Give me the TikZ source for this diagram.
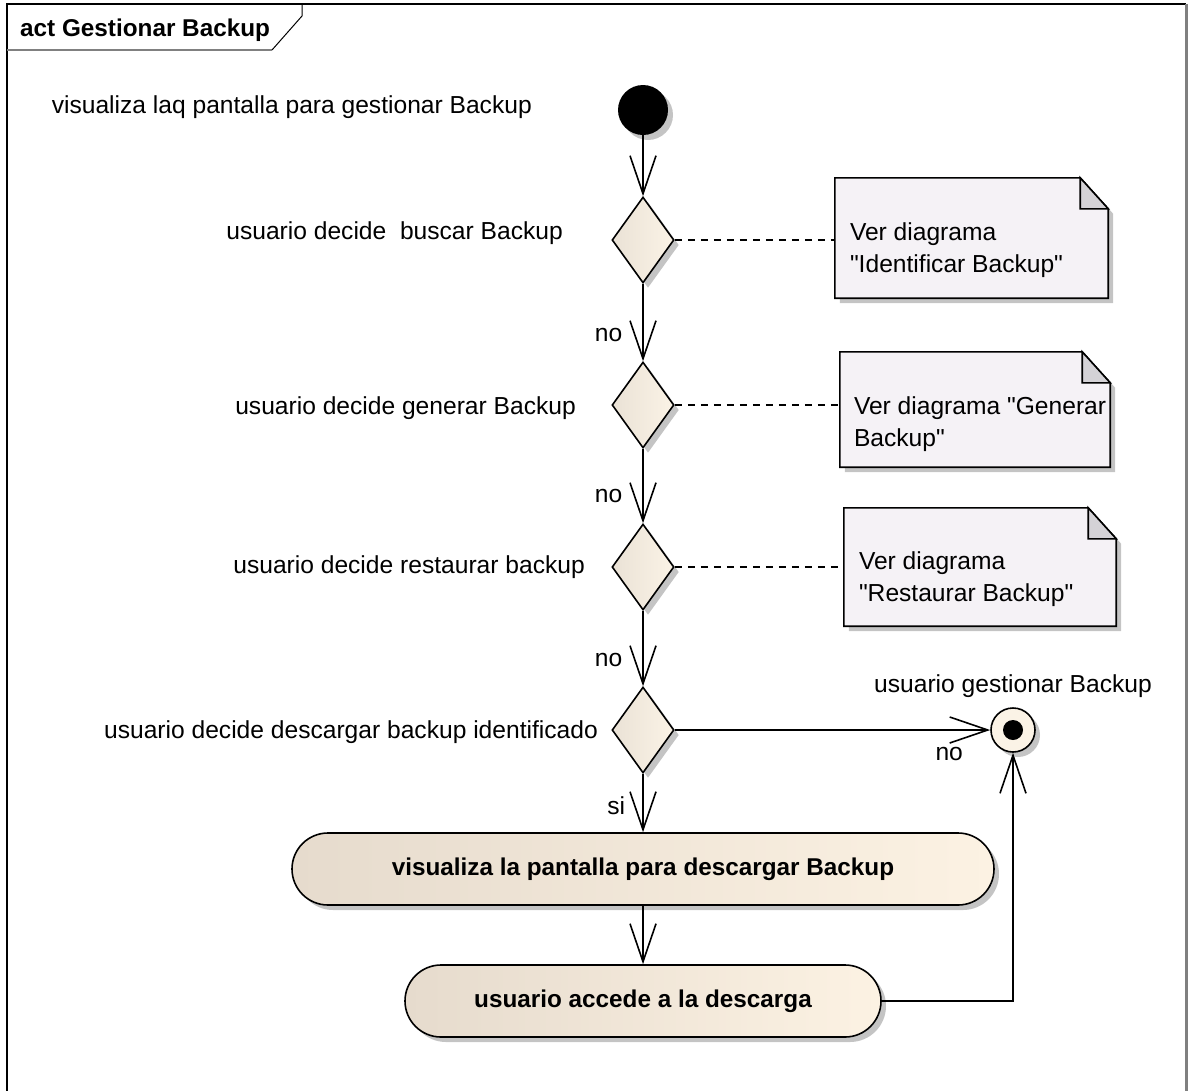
\documentclass[tikz,border=0pt]{standalone}
\usepackage{fontspec}
\setmainfont{Liberation Sans}[Ligatures=TeXOff]
\usepackage{xcolor}
\usetikzlibrary{arrows.meta,positioning,shapes.geometric,shadows}

\definecolor{dialeft}{HTML}{EAE2D6}
\definecolor{diaright}{HTML}{FBF3E6}
\definecolor{actleft}{HTML}{E6DBCD}
\definecolor{actright}{HTML}{FCF2E3}
\definecolor{notebg}{HTML}{F5F2F6}
\definecolor{notecrn}{HTML}{D4D2D6}
\definecolor{shade}{HTML}{C4C4C4}

\begin{document}
\begin{tikzpicture}[
    x=1pt, y=-1pt,
    font=\fontsize{24.6}{31.5}\selectfont,
    lbl/.style={inner sep=0pt},
    flow/.style={-{Straight Barb[length=38pt,width=26pt]}, line width=1.6pt},
    link/.style={line width=1.5pt, dash pattern=on 7pt off 6pt},
    shadowed/.style={drop shadow={shadow xshift=5pt, shadow yshift=-5pt, fill=shade, opacity=1}},
    start/.style={circle, fill=black, minimum size=50pt, inner sep=0pt, shadowed},
    decision/.style={diamond, draw, line width=1.6pt, left color=dialeft, right color=diaright,
        minimum width=62pt, minimum height=86pt, inner sep=0pt, shadowed},
    action/.style={rectangle, rounded corners=36pt, draw, line width=1.6pt, left color=actleft,
        right color=actright, minimum height=72pt, font=\fontsize{24.3}{31.5}\selectfont\bfseries, shadowed},
    final/.style={circle, draw, line width=1.6pt, fill=diaright, minimum size=44pt, inner sep=0pt, shadowed},
    note/.style={rectangle, inner sep=0pt},
    notebody/.style={draw, line width=1.6pt, fill=notebg, shadowed},
    notecorner/.style={draw, line width=1.6pt, fill=notecrn}
]
\useasboundingbox (0,0) rectangle (1189,1090);

% frame
\draw[line width=2pt] (7,1095) -- (7,4) -- (1186,4);
\draw[line width=3pt, gray] (1186,4) -- (1186,1095);
\draw[line width=2pt, gray] (7,50) -- (272,50);
\draw[line width=1pt] (272,50) -- (302,16) -- (302,4);
\node[lbl, anchor=west, font=\fontsize{24.3}{31.5}\selectfont\bfseries] (title) at (20,30) {act Gestionar Backup};

% flow nodes
\node[start] (start) at (643,110) {};
\node[decision] (d1) at (643,240) {};
\node[decision] (d2) at (643,405) {};
\node[decision] (d3) at (643,567) {};
\node[decision] (d4) at (643,730) {};
\node[final] (fin) at (1013,730) {};
\fill (fin) circle (10pt);
\node[action, minimum width=702pt] (a1) at (643,869) {visualiza la pantalla para descargar Backup};
\node[action, minimum width=476pt] (a2) at (643,1001) {usuario accede a la descarga};

% labels
\node[lbl, anchor=east] (l0) at (532,107) {visualiza laq pantalla para gestionar Backup};
\node[lbl, anchor=east] (l1) at (563,233) {usuario decide\ \ buscar Backup};
\node[lbl, anchor=east] (l2) at (576,408) {usuario decide generar Backup};
\node[lbl, anchor=east] (l3) at (585,567) {usuario decide restaurar backup};
\node[lbl, anchor=east] (l4) at (598,732) {usuario decide descargar backup identificado};
\node[lbl, above=9pt of fin] (lf) {usuario gestionar Backup};

% notes
\node[note, minimum width=273pt, minimum height=120pt] (n1) at (971.5,238) {};
\node[note, minimum width=270pt, minimum height=115pt] (n2) at (975,409.5) {};
\node[note, minimum width=272pt, minimum height=118pt] (n3) at (980,567) {};
\foreach \n in {n1,n2,n3} {
  \path[notebody] (\n.north west) -- ([xshift=-28pt]\n.north east) -- ([yshift=-31pt]\n.north east)
     -- (\n.south east) -- (\n.south west) -- cycle;
  \path[notecorner] ([xshift=-28pt]\n.north east) -- ([xshift=-28pt,yshift=-31pt]\n.north east)
     -- ([yshift=-31pt]\n.north east) -- cycle;
}
\node[lbl, align=left, below right=45pt and 15pt of n1.north west] (t1) {Ver diagrama\\"Identificar Backup"};
\node[lbl, align=left, below right=45pt and 14pt of n2.north west] (t2) {Ver diagrama "Generar\\Backup"};
\node[lbl, align=left, below right=44pt and 15pt of n3.north west] (t3) {Ver diagrama\\"Restaurar Backup"};

% edges
\draw[flow] (start) -- (d1);
\draw[flow] (d1) -- node[lbl, pos=0.66, left=20pt] {no} (d2);
\draw[flow] (d2) -- node[lbl, pos=0.64, left=20pt] {no} (d3);
\draw[flow] (d3) -- node[lbl, pos=0.65, left=20pt] {no} (d4);
\draw[flow] (d4) -- node[lbl, pos=0.55, left=17pt] {si} (a1);
\draw[flow] (d4) -- node[lbl, pos=0.87, below=16pt] {no} (fin);
\draw[flow] (a1) -- (a2);
\draw[flow] (a2) -| (fin);
\draw[link] (d1) -- (d1 -| n1.west);
\draw[link] (d2) -- (d2 -| n2.west);
\draw[link] (d3) -- (d3 -| n3.west);
\end{tikzpicture}
\end{document}
